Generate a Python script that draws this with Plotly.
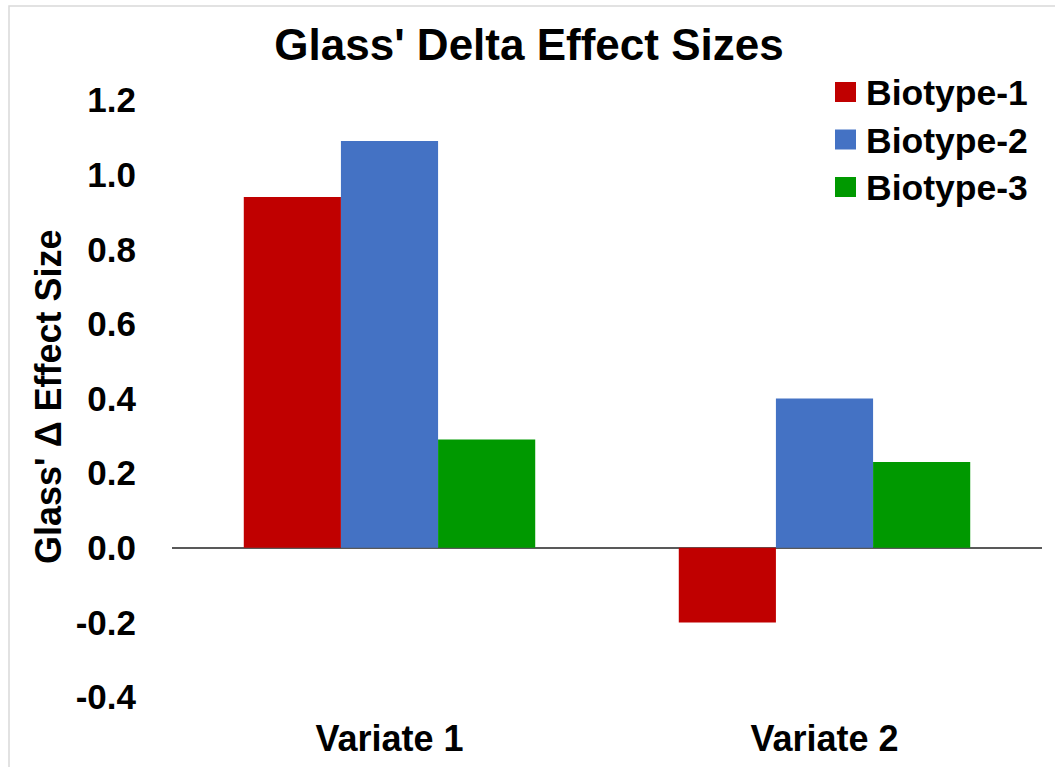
import plotly.graph_objects as go

categories = ["Variate 1", "Variate 2"]
series_names = ["Biotype-1", "Biotype-2", "Biotype-3"]
biotype1 = [0.94, -0.20]
biotype2 = [1.09, 0.40]
biotype3 = [0.29, 0.23]
series_values = [biotype1, biotype2, biotype3]
colors = ["#C00000", "#4472C4", "#009900"]
y_tick_vals = [-0.4, -0.2, 0.0, 0.2, 0.4, 0.6, 0.8, 1.0, 1.2]
y_tick_text = ["-0.4", "-0.2", "0.0", "0.2", "0.4", "0.6", "0.8", "1.0", "1.2"]
title_text = "Glass' Delta Effect Sizes"
y_title = "Glass' Δ Effect Size"

FONT = "Arial, 'Liberation Sans', sans-serif"
W, H = 1055, 767
L, R, T, B = 172, 13, 100, 70
PW, PH = W - L - R, H - T - B

def px_x(x):
    return (x - L) / PW

def px_y(y):
    return (H - B - y) / PH

fig = go.Figure()
for name, vals, col in zip(series_names, series_values, colors):
    fig.add_trace(go.Bar(x=categories, y=vals, name=name, marker=dict(color=col, line=dict(width=0)),
                         showlegend=False))

shapes = [
    dict(type="rect", xref="paper", yref="paper", x0=px_x(9), x1=px_x(1070), y0=px_y(780), y1=px_y(6),
         line=dict(color="#D9D9D9", width=1.5), fillcolor="rgba(0,0,0,0)", layer="below"),
]
annotations = [
    dict(text=y_title, xref="paper", yref="paper", x=px_x(48), y=px_y(397), xanchor="center", yanchor="middle",
         textangle=-90, showarrow=False, font=dict(family=FONT, size=36, color="black", weight="bold")),
]
row_y = [92, 139.5, 187]
for name, col, ry in zip(series_names, colors, row_y):
    shapes.append(dict(type="rect", xref="paper", yref="paper", x0=px_x(835), x1=px_x(856),
                       y0=px_y(ry + 10), y1=px_y(ry - 10), fillcolor=col, line=dict(width=0)))
    annotations.append(dict(text=name, xref="paper", yref="paper", x=px_x(864), y=px_y(ry + 1),
                            xanchor="left", yanchor="middle", showarrow=False,
                            font=dict(family=FONT, size=35.5, color="black", weight="bold")))

fig.update_layout(
    width=W, height=H, autosize=False,
    margin=dict(l=L, r=R, t=T, b=B, autoexpand=False),
    paper_bgcolor="white", plot_bgcolor="white",
    barmode="group", bargap=0.33, bargroupgap=0,
    title=dict(text=title_text, x=529 / W, xanchor="center", y=1 - 45 / H, yanchor="middle",
               xref="container", yref="container",
               font=dict(family=FONT, size=44, color="black", weight="bold")),
    shapes=shapes, annotations=annotations,
    xaxis=dict(showgrid=False, showline=False, zeroline=False, ticks="", automargin=False,
               tickfont=dict(family=FONT, size=36, color="black", weight="bold"),
               ticklabelstandoff=17),
    yaxis=dict(range=[-0.4, 1.2], tickvals=y_tick_vals, ticktext=y_tick_text, automargin=False,
               showgrid=False, showline=False, zeroline=True, zerolinecolor="#595959", zerolinewidth=1.5,
               ticks="", tickfont=dict(family=FONT, size=35, color="black", weight="bold"),
               ticklabelstandoff=35),
)

fig.write_html("out.html")
